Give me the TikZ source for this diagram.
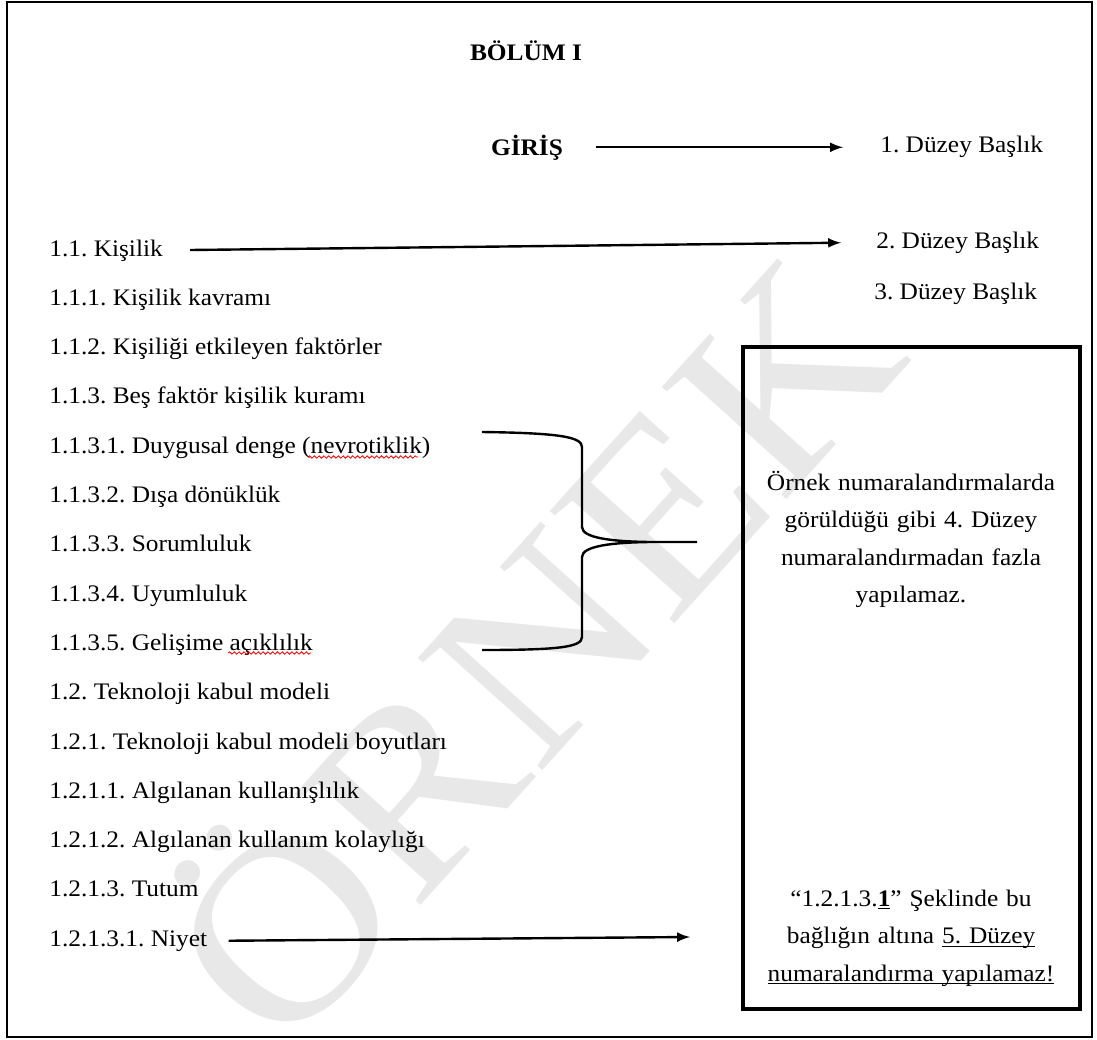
\documentclass[tikz,border=0pt]{standalone}
\usepackage{fontspec}
\setmainfont[FakeStretch=1.07]{Liberation Serif}
\usepackage{tikz}
\usetikzlibrary{positioning,arrows,decorations.pathmorphing}
\newcommand{\cizgili}[1]{\underline{\smash{#1}}}
\frenchspacing

\begin{document}
\begin{tikzpicture}[x=0.5pt,y=-0.5pt,>=latex,
    every node/.style={inner sep=0pt,font=\fontsize{11.85}{18.75}\selectfont},
    node distance=24.65pt,
    item/.style={anchor=base west},
    head/.style={anchor=base,font=\fontsize{11.85}{14}\selectfont\bfseries},
    boxtext/.style={anchor=base,align=center,text width=160pt},
    spell/.style={red,line width=0.4pt,decorate,decoration={snake,amplitude=0.6pt,segment length=2.4pt}}]
    \useasboundingbox (0,0) rectangle (1097,1039);
    % watermark
    \node[rotate=48,text=black!9,font=\fontsize{128}{128}\selectfont] (wm) at (522,640) {ÖRNEK};
    \draw[line width=0.8pt] (7,2) rectangle (1092,1037);
    \node[head] (bolum) at (526,60) {BÖLÜM I};
    \node[head] (giris) at (527,155) {GİRİŞ};
    \node[item] (d1) at (880,152) {1. Düzey Başlık};
    \node[item] (d2) at (876,248) {2. Düzey Başlık};
    \node[item] (d3) at (874,299) {3. Düzey Başlık};
    \node[item] (k1) at (49,256) {1.1. Kişilik};
    \node[below=of k1.base west,item] (k11) {1.1.1. Kişilik kavramı};
    \node[below=of k11.base west,item] (k12) {1.1.2. Kişiliği etkileyen faktörler};
    \node[below=of k12.base west,item] (k13) {1.1.3. Beş faktör kişilik kuramı};
    \node[below=of k13.base west,item] (k131) {1.1.3.1. Duygusal denge (nevrotiklik)};
    \node[below=of k131.base west,item] (k132) {1.1.3.2. Dışa dönüklük};
    \node[below=of k132.base west,item] (k133) {1.1.3.3. Sorumluluk};
    \node[below=of k133.base west,item] (k134) {1.1.3.4. Uyumluluk};
    \node[below=of k134.base west,item] (k135) {1.1.3.5. Gelişime açıklılık};
    \node[below=of k135.base west,item] (t1) {1.2. Teknoloji kabul modeli};
    \node[below=of t1.base west,item] (t11) {1.2.1. Teknoloji kabul modeli boyutları};
    \node[below=of t11.base west,item] (t111) {1.2.1.1. Algılanan kullanışlılık};
    \node[below=of t111.base west,item] (t112) {1.2.1.2. Algılanan kullanım kolaylığı};
    \node[below=of t112.base west,item] (t113) {1.2.1.3. Tutum};
    \node[below=of t113.base west,item] (niyet) {1.2.1.3.1. Niyet};
    % spelling marks
    \draw[spell] (308,457) -- (418,457);
    \draw[spell] (228,653) -- (311,653);
    \node[draw,line width=2pt,minimum width=168.5pt,minimum height=331pt] (note) at (911.5,678) {};
    \node[boxtext] (kural) at (911,490) {Örnek numaralandırmalarda\\görüldüğü gibi 4. Düzey\\numaralandırmadan fazla\\yapılamaz.};
    \node[boxtext] (uyari) at (911,906) {“1.2.1.3.\cizgili{\textbf{1}}” Şeklinde bu\\bağlığın altına \cizgili{5. Düzey}\\\cizgili{numaralandırma yapılamaz!}};
    \coordinate (uc) at (697,542);
    \coordinate (hedef) at (690,937);
    \draw[->,line width=1.2pt,shorten <=16.5pt,shorten >=18.5pt] (giris.east) -- (giris.east -| d1.west);
    \draw[->,line width=1.2pt,shorten <=13.5pt,shorten >=17.5pt] (k1.east) -- (d2.west);
    \draw[->,line width=1.2pt,shorten <=10.5pt] (niyet.east) -- (hedef);
    \draw[line width=1.2pt] (482,432) .. controls (560,433) and (582,437) .. (582,447) -- (582,527)
        .. controls (582,538) and (612,541.5) .. (650,542) -- (uc)
        (650,542) .. controls (612,542.5) and (582,546) .. (582,557) -- (582,637)
        .. controls (582,647) and (560,650) .. (482,650);
  \end{tikzpicture}
\end{document}
